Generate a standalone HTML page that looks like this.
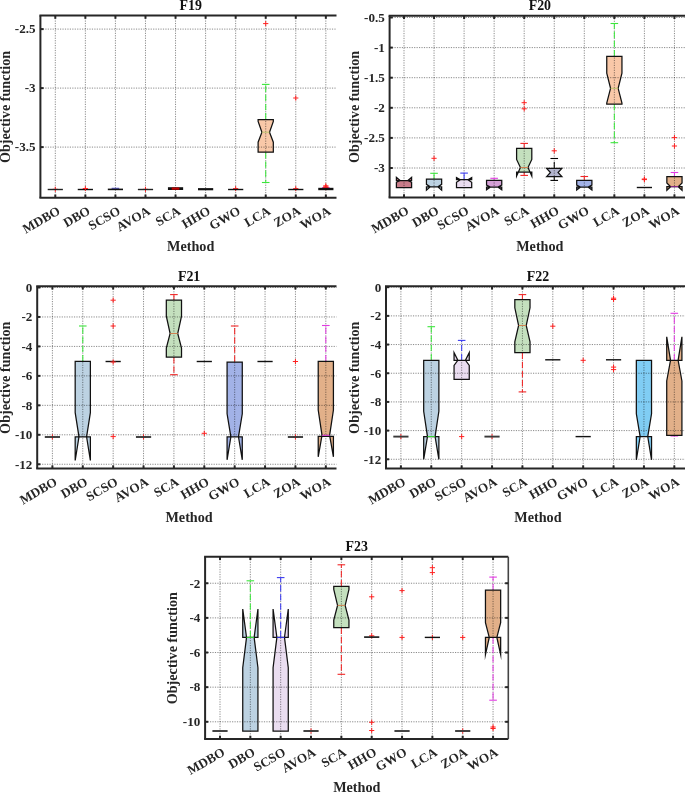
<!DOCTYPE html>
<html><head><meta charset="utf-8"><style>
html,body{margin:0;padding:0;background:#fff;}
svg{display:block;will-change:transform;filter:blur(0.35px);}
</style></head><body>
<svg width="685" height="792" viewBox="0 0 685 792">
<rect width="685" height="792" fill="#fff"/>
<path d="M258.12 152.2 L258.12 142.2 L261.92 132.2 L258.12 121.5 L258.12 119.5 L273.32 119.5 L273.32 121.5 L269.52 132.2 L273.32 142.2 L273.32 152.2 Z" fill="#F9C8A8" stroke="none"/>
<g stroke="#000" stroke-opacity="0.46" stroke-width="1" stroke-dasharray="1.2 1.25" fill="none"><line x1="55.3" y1="15.6" x2="55.3" y2="197.7"/><line x1="85.36" y1="15.6" x2="85.36" y2="197.7"/><line x1="115.42" y1="15.6" x2="115.42" y2="197.7"/><line x1="145.48" y1="15.6" x2="145.48" y2="197.7"/><line x1="175.54" y1="15.6" x2="175.54" y2="197.7"/><line x1="205.6" y1="15.6" x2="205.6" y2="197.7"/><line x1="235.66" y1="15.6" x2="235.66" y2="197.7"/><line x1="265.72" y1="15.6" x2="265.72" y2="197.7"/><line x1="295.78" y1="15.6" x2="295.78" y2="197.7"/><line x1="325.84" y1="15.6" x2="325.84" y2="197.7"/><line x1="40.4" y1="29.1" x2="336.5" y2="29.1"/><line x1="40.4" y1="88.1" x2="336.5" y2="88.1"/><line x1="40.4" y1="147.1" x2="336.5" y2="147.1"/></g>
<path d="M52.7 189.3H57.9M55.3 186.7V191.9" stroke="#FF2020" stroke-width="1.0" fill="none"/><line x1="47.7" y1="189.5" x2="62.9" y2="189.5" stroke="#222" stroke-width="1.4"/><line x1="77.76" y1="189.5" x2="92.96" y2="189.5" stroke="#111" stroke-width="1.4"/><path d="M82.76 188.5H87.96M85.36 185.9V191.1" stroke="#FF2020" stroke-width="1.0" fill="none"/><line x1="111.62" y1="188.3" x2="119.22" y2="188.3" stroke="#5050d0" stroke-width="1.1"/><line x1="107.82" y1="189.4" x2="123.02" y2="189.4" stroke="#111" stroke-width="1.6"/><path d="M142.88 189.3H148.08M145.48 186.7V191.9" stroke="#FF2020" stroke-width="1.0" fill="none"/><line x1="137.88" y1="189.5" x2="153.08" y2="189.5" stroke="#222" stroke-width="1.4"/><line x1="167.94" y1="188.6" x2="183.14" y2="188.6" stroke="#111" stroke-width="2.8"/><line x1="171.74" y1="188.6" x2="179.34" y2="188.6" stroke="#c00000" stroke-width="2.2"/><line x1="198" y1="189.2" x2="213.2" y2="189.2" stroke="#111" stroke-width="2.2"/><path d="M233.06 188.6H238.26M235.66 186V191.2" stroke="#FF2020" stroke-width="1.0" fill="none"/><line x1="228.06" y1="189.5" x2="243.26" y2="189.5" stroke="#111" stroke-width="1.4"/><line x1="265.72" y1="119.5" x2="265.72" y2="84.4" stroke="#3CE63C" stroke-width="1.05" stroke-dasharray="6.4 2.8"/><line x1="261.92" y1="84.4" x2="269.52" y2="84.4" stroke="#3CE63C" stroke-width="1.1"/><line x1="265.72" y1="152.2" x2="265.72" y2="182.5" stroke="#3CE63C" stroke-width="1.05" stroke-dasharray="6.4 2.8"/><line x1="261.92" y1="182.5" x2="269.52" y2="182.5" stroke="#3CE63C" stroke-width="1.1"/><path d="M258.12 152.2 L258.12 142.2 L261.92 132.2 L258.12 121.5 L258.12 119.5 L273.32 119.5 L273.32 121.5 L269.52 132.2 L273.32 142.2 L273.32 152.2 Z" fill="none" stroke="#111" stroke-width="1.25" stroke-linejoin="miter" stroke-miterlimit="10"/><line x1="261.92" y1="132.2" x2="269.52" y2="132.2" stroke="#BEC46E" stroke-width="1"/><path d="M263.12 23.6H268.32M265.72 21V26.2" stroke="#FF2020" stroke-width="1.0" fill="none"/><path d="M293.18 188.6H298.38M295.78 186V191.2" stroke="#FF2020" stroke-width="1.0" fill="none"/><path d="M293.18 98H298.38M295.78 95.4V100.6" stroke="#FF2020" stroke-width="1.0" fill="none"/><line x1="288.18" y1="189.5" x2="303.38" y2="189.5" stroke="#111" stroke-width="1.4"/><line x1="322.04" y1="187.6" x2="329.64" y2="187.6" stroke="#E23BE2" stroke-width="1.1"/><path d="M323.24 185.8H328.44M325.84 183.2V188.4" stroke="#FF2020" stroke-width="1.0" fill="none"/><path d="M323.24 186.8H328.44M325.84 184.2V189.4" stroke="#FF2020" stroke-width="1.0" fill="none"/><path d="M323.24 187.6H328.44M325.84 185V190.2" stroke="#FF2020" stroke-width="1.0" fill="none"/><line x1="318.24" y1="189" x2="333.44" y2="189" stroke="#111" stroke-width="2.4"/>
<g stroke="#262626" stroke-width="2" fill="none"><line x1="40.4" y1="15.6" x2="40.4" y2="197.7"/><line x1="39.4" y1="15.6" x2="336.5" y2="15.6"/><line x1="39.4" y1="197.7" x2="336.5" y2="197.7"/><line x1="55.3" y1="197.7" x2="55.3" y2="194.5"/><line x1="55.3" y1="15.6" x2="55.3" y2="18.8"/><line x1="85.36" y1="197.7" x2="85.36" y2="194.5"/><line x1="85.36" y1="15.6" x2="85.36" y2="18.8"/><line x1="115.42" y1="197.7" x2="115.42" y2="194.5"/><line x1="115.42" y1="15.6" x2="115.42" y2="18.8"/><line x1="145.48" y1="197.7" x2="145.48" y2="194.5"/><line x1="145.48" y1="15.6" x2="145.48" y2="18.8"/><line x1="175.54" y1="197.7" x2="175.54" y2="194.5"/><line x1="175.54" y1="15.6" x2="175.54" y2="18.8"/><line x1="205.6" y1="197.7" x2="205.6" y2="194.5"/><line x1="205.6" y1="15.6" x2="205.6" y2="18.8"/><line x1="235.66" y1="197.7" x2="235.66" y2="194.5"/><line x1="235.66" y1="15.6" x2="235.66" y2="18.8"/><line x1="265.72" y1="197.7" x2="265.72" y2="194.5"/><line x1="265.72" y1="15.6" x2="265.72" y2="18.8"/><line x1="295.78" y1="197.7" x2="295.78" y2="194.5"/><line x1="295.78" y1="15.6" x2="295.78" y2="18.8"/><line x1="325.84" y1="197.7" x2="325.84" y2="194.5"/><line x1="325.84" y1="15.6" x2="325.84" y2="18.8"/><line x1="40.4" y1="29.1" x2="43.6" y2="29.1"/><line x1="40.4" y1="88.1" x2="43.6" y2="88.1"/><line x1="40.4" y1="147.1" x2="43.6" y2="147.1"/></g>
<g font-family='"Liberation Serif", serif' font-weight="bold" font-size="13.1" fill="#262626"><text x="35.6" y="33.4" text-anchor="end">-2.5</text><text x="35.6" y="92.4" text-anchor="end">-3</text><text x="35.6" y="151.4" text-anchor="end">-3.5</text><text x="61.1" y="213.4" text-anchor="end" transform="rotate(-30 61.1 213.4)">MDBO</text><text x="91.16" y="213.4" text-anchor="end" transform="rotate(-30 91.16 213.4)">DBO</text><text x="121.22" y="213.4" text-anchor="end" transform="rotate(-30 121.22 213.4)">SCSO</text><text x="151.28" y="213.4" text-anchor="end" transform="rotate(-30 151.28 213.4)">AVOA</text><text x="181.34" y="213.4" text-anchor="end" transform="rotate(-30 181.34 213.4)">SCA</text><text x="211.4" y="213.4" text-anchor="end" transform="rotate(-30 211.4 213.4)">HHO</text><text x="241.46" y="213.4" text-anchor="end" transform="rotate(-30 241.46 213.4)">GWO</text><text x="271.52" y="213.4" text-anchor="end" transform="rotate(-30 271.52 213.4)">LCA</text><text x="301.58" y="213.4" text-anchor="end" transform="rotate(-30 301.58 213.4)">ZOA</text><text x="331.64" y="213.4" text-anchor="end" transform="rotate(-30 331.64 213.4)">WOA</text></g>
<text x="190.7" y="9.8" text-anchor="middle" font-family='"Liberation Serif", serif' font-weight="bold" font-size="13.9" fill="#111">F19</text>
<text x="190.7" y="250.7" text-anchor="middle" font-family='"Liberation Serif", serif' font-weight="bold" font-size="14.2" fill="#262626">Method</text>
<text x="10.2" y="106.95" text-anchor="middle" transform="rotate(-90 10.2 106.95)" font-family='"Liberation Serif", serif' font-weight="bold" font-size="14.2" fill="#262626">Objective function</text>
<path d="M396.4 187.5 L396.4 182.3 L400.2 180.5 L396.4 177.4 L396.4 180.5 L411.6 180.5 L411.6 177.4 L407.8 180.5 L411.6 182.3 L411.6 187.5 Z" fill="#C87D8A" stroke="none"/><path d="M426.45 186.9 L426.45 190.2 L430.25 186.9 L426.45 184.3 L426.45 179 L441.65 179 L441.65 184.3 L437.85 186.9 L441.65 190.2 L441.65 186.9 Z" fill="#BCD2E2" stroke="none"/><path d="M456.5 187.6 L456.5 182.3 L460.3 179.7 L456.5 177.5 L456.5 179.7 L471.7 179.7 L471.7 177.5 L467.9 179.7 L471.7 182.3 L471.7 187.6 Z" fill="#EADDF0" stroke="none"/><path d="M486.55 187.1 L486.55 189.7 L490.35 187.1 L486.55 185.1 L486.55 180.4 L501.75 180.4 L501.75 185.1 L497.95 187.1 L501.75 189.7 L501.75 187.1 Z" fill="#D4A0D6" stroke="none"/><path d="M516.6 172.1 L516.6 176.1 L520.4 167.5 L516.6 159.4 L516.6 148.3 L531.8 148.3 L531.8 159.4 L528 167.5 L531.8 176.1 L531.8 172.1 Z" fill="#C4E0BE" stroke="none"/><path d="M546.65 176.6 L546.65 176.6 L550.45 172.5 L546.65 168.3 L546.65 168.3 L561.85 168.3 L561.85 168.3 L558.05 172.5 L561.85 176.6 L561.85 176.6 Z" fill="#B2B4CD" stroke="none"/><path d="M576.7 187.1 L576.7 190 L580.5 187.1 L576.7 185.1 L576.7 180.3 L591.9 180.3 L591.9 185.1 L588.1 187.1 L591.9 190 L591.9 187.1 Z" fill="#A2B2E7" stroke="none"/><path d="M606.75 104.2 L606.75 103 L610.55 88.3 L606.75 73.1 L606.75 56.4 L621.95 56.4 L621.95 73.1 L618.15 88.3 L621.95 103 L621.95 104.2 Z" fill="#F9C8A8" stroke="none"/><path d="M666.85 186.7 L666.85 190.2 L670.65 186.7 L666.85 183 L666.85 176.6 L682.05 176.6 L682.05 183 L678.25 186.7 L682.05 190.2 L682.05 186.7 Z" fill="#E2B089" stroke="none"/>
<g stroke="#000" stroke-opacity="0.46" stroke-width="1" stroke-dasharray="1.2 1.25" fill="none"><line x1="404" y1="15.8" x2="404" y2="197.5"/><line x1="434.05" y1="15.8" x2="434.05" y2="197.5"/><line x1="464.1" y1="15.8" x2="464.1" y2="197.5"/><line x1="494.15" y1="15.8" x2="494.15" y2="197.5"/><line x1="524.2" y1="15.8" x2="524.2" y2="197.5"/><line x1="554.25" y1="15.8" x2="554.25" y2="197.5"/><line x1="584.3" y1="15.8" x2="584.3" y2="197.5"/><line x1="614.35" y1="15.8" x2="614.35" y2="197.5"/><line x1="644.4" y1="15.8" x2="644.4" y2="197.5"/><line x1="674.45" y1="15.8" x2="674.45" y2="197.5"/><line x1="389.6" y1="17.5" x2="685" y2="17.5"/><line x1="389.6" y1="47.6" x2="685" y2="47.6"/><line x1="389.6" y1="77.7" x2="685" y2="77.7"/><line x1="389.6" y1="107.8" x2="685" y2="107.8"/><line x1="389.6" y1="137.9" x2="685" y2="137.9"/><line x1="389.6" y1="168" x2="685" y2="168"/></g>
<path d="M396.4 187.5 L396.4 182.3 L400.2 180.5 L396.4 177.4 L396.4 180.5 L411.6 180.5 L411.6 177.4 L407.8 180.5 L411.6 182.3 L411.6 187.5 Z" fill="none" stroke="#111" stroke-width="1.25" stroke-linejoin="miter" stroke-miterlimit="10"/><line x1="434.05" y1="179" x2="434.05" y2="173.3" stroke="#3CE63C" stroke-width="1.05" stroke-dasharray="6.4 2.8"/><line x1="430.25" y1="173.3" x2="437.85" y2="173.3" stroke="#3CE63C" stroke-width="1.1"/><path d="M426.45 186.9 L426.45 190.2 L430.25 186.9 L426.45 184.3 L426.45 179 L441.65 179 L441.65 184.3 L437.85 186.9 L441.65 190.2 L441.65 186.9 Z" fill="none" stroke="#111" stroke-width="1.25" stroke-linejoin="miter" stroke-miterlimit="10"/><path d="M431.45 158.3H436.65M434.05 155.7V160.9" stroke="#FF2020" stroke-width="1.0" fill="none"/><line x1="464.1" y1="179.7" x2="464.1" y2="173.1" stroke="#3B3BF0" stroke-width="1.05" stroke-dasharray="6.4 2.8"/><line x1="460.3" y1="173.1" x2="467.9" y2="173.1" stroke="#3B3BF0" stroke-width="1.1"/><path d="M456.5 187.6 L456.5 182.3 L460.3 179.7 L456.5 177.5 L456.5 179.7 L471.7 179.7 L471.7 177.5 L467.9 179.7 L471.7 182.3 L471.7 187.6 Z" fill="none" stroke="#111" stroke-width="1.25" stroke-linejoin="miter" stroke-miterlimit="10"/><line x1="494.15" y1="180.4" x2="494.15" y2="178.3" stroke="#E23BE2" stroke-width="1.05" stroke-dasharray="6.4 2.8"/><line x1="490.35" y1="178.3" x2="497.95" y2="178.3" stroke="#E23BE2" stroke-width="1.1"/><path d="M486.55 187.1 L486.55 189.7 L490.35 187.1 L486.55 185.1 L486.55 180.4 L501.75 180.4 L501.75 185.1 L497.95 187.1 L501.75 189.7 L501.75 187.1 Z" fill="none" stroke="#111" stroke-width="1.25" stroke-linejoin="miter" stroke-miterlimit="10"/><line x1="524.2" y1="148.3" x2="524.2" y2="143.4" stroke="#F02525" stroke-width="1.05" stroke-dasharray="6.4 2.8"/><line x1="520.4" y1="143.4" x2="528" y2="143.4" stroke="#F02525" stroke-width="1.1"/><line x1="524.2" y1="172.1" x2="524.2" y2="175.4" stroke="#F02525" stroke-width="1.05" stroke-dasharray="6.4 2.8"/><line x1="520.4" y1="175.4" x2="528" y2="175.4" stroke="#F02525" stroke-width="1.1"/><path d="M516.6 172.1 L516.6 176.1 L520.4 167.5 L516.6 159.4 L516.6 148.3 L531.8 148.3 L531.8 159.4 L528 167.5 L531.8 176.1 L531.8 172.1 Z" fill="none" stroke="#111" stroke-width="1.25" stroke-linejoin="miter" stroke-miterlimit="10"/><line x1="520.4" y1="167.5" x2="528" y2="167.5" stroke="#D08050" stroke-width="1"/><path d="M521.6 102.7H526.8M524.2 100.1V105.3" stroke="#FF2020" stroke-width="1.0" fill="none"/><path d="M521.6 108.8H526.8M524.2 106.2V111.4" stroke="#FF2020" stroke-width="1.0" fill="none"/><line x1="554.25" y1="168.3" x2="554.25" y2="158.5" stroke="#000000" stroke-width="1.05" stroke-dasharray="6.4 2.8"/><line x1="550.45" y1="158.5" x2="558.05" y2="158.5" stroke="#000000" stroke-width="1.1"/><line x1="554.25" y1="176.6" x2="554.25" y2="180.4" stroke="#000000" stroke-width="1.05" stroke-dasharray="6.4 2.8"/><line x1="550.45" y1="180.4" x2="558.05" y2="180.4" stroke="#000000" stroke-width="1.1"/><path d="M546.65 176.6 L546.65 176.6 L550.45 172.5 L546.65 168.3 L546.65 168.3 L561.85 168.3 L561.85 168.3 L558.05 172.5 L561.85 176.6 L561.85 176.6 Z" fill="none" stroke="#111" stroke-width="1.25" stroke-linejoin="miter" stroke-miterlimit="10"/><path d="M551.65 150.8H556.85M554.25 148.2V153.4" stroke="#FF2020" stroke-width="1.0" fill="none"/><line x1="584.3" y1="180.3" x2="584.3" y2="176.5" stroke="#F02525" stroke-width="1.05" stroke-dasharray="6.4 2.8"/><line x1="580.5" y1="176.5" x2="588.1" y2="176.5" stroke="#F02525" stroke-width="1.1"/><path d="M576.7 187.1 L576.7 190 L580.5 187.1 L576.7 185.1 L576.7 180.3 L591.9 180.3 L591.9 185.1 L588.1 187.1 L591.9 190 L591.9 187.1 Z" fill="none" stroke="#111" stroke-width="1.25" stroke-linejoin="miter" stroke-miterlimit="10"/><line x1="614.35" y1="56.4" x2="614.35" y2="23.5" stroke="#3CE63C" stroke-width="1.05" stroke-dasharray="6.4 2.8"/><line x1="610.55" y1="23.5" x2="618.15" y2="23.5" stroke="#3CE63C" stroke-width="1.1"/><line x1="614.35" y1="104.2" x2="614.35" y2="142.7" stroke="#3CE63C" stroke-width="1.05" stroke-dasharray="6.4 2.8"/><line x1="610.55" y1="142.7" x2="618.15" y2="142.7" stroke="#3CE63C" stroke-width="1.1"/><path d="M606.75 104.2 L606.75 103 L610.55 88.3 L606.75 73.1 L606.75 56.4 L621.95 56.4 L621.95 73.1 L618.15 88.3 L621.95 103 L621.95 104.2 Z" fill="none" stroke="#111" stroke-width="1.25" stroke-linejoin="miter" stroke-miterlimit="10"/><line x1="610.55" y1="88.3" x2="618.15" y2="88.3" stroke="#BEC46E" stroke-width="1"/><path d="M641.8 179H647M644.4 176.4V181.6" stroke="#FF2020" stroke-width="1.0" fill="none"/><path d="M641.8 179.6H647M644.4 177V182.2" stroke="#FF2020" stroke-width="1.0" fill="none"/><line x1="636.8" y1="187.5" x2="652" y2="187.5" stroke="#111" stroke-width="1.4"/><line x1="674.45" y1="176.6" x2="674.45" y2="172.5" stroke="#E23BE2" stroke-width="1.05" stroke-dasharray="6.4 2.8"/><line x1="670.65" y1="172.5" x2="678.25" y2="172.5" stroke="#E23BE2" stroke-width="1.1"/><path d="M666.85 186.7 L666.85 190.2 L670.65 186.7 L666.85 183 L666.85 176.6 L682.05 176.6 L682.05 183 L678.25 186.7 L682.05 190.2 L682.05 186.7 Z" fill="none" stroke="#111" stroke-width="1.25" stroke-linejoin="miter" stroke-miterlimit="10"/><line x1="670.65" y1="186.7" x2="678.25" y2="186.7" stroke="#A030A0" stroke-width="1"/><path d="M671.85 137.6H677.05M674.45 135V140.2" stroke="#FF2020" stroke-width="1.0" fill="none"/><path d="M671.85 146H677.05M674.45 143.4V148.6" stroke="#FF2020" stroke-width="1.0" fill="none"/>
<g stroke="#262626" stroke-width="2" fill="none"><line x1="389.6" y1="15.8" x2="389.6" y2="197.5"/><line x1="388.6" y1="15.8" x2="685" y2="15.8"/><line x1="388.6" y1="197.5" x2="685" y2="197.5"/><line x1="404" y1="197.5" x2="404" y2="194.3"/><line x1="404" y1="15.8" x2="404" y2="19"/><line x1="434.05" y1="197.5" x2="434.05" y2="194.3"/><line x1="434.05" y1="15.8" x2="434.05" y2="19"/><line x1="464.1" y1="197.5" x2="464.1" y2="194.3"/><line x1="464.1" y1="15.8" x2="464.1" y2="19"/><line x1="494.15" y1="197.5" x2="494.15" y2="194.3"/><line x1="494.15" y1="15.8" x2="494.15" y2="19"/><line x1="524.2" y1="197.5" x2="524.2" y2="194.3"/><line x1="524.2" y1="15.8" x2="524.2" y2="19"/><line x1="554.25" y1="197.5" x2="554.25" y2="194.3"/><line x1="554.25" y1="15.8" x2="554.25" y2="19"/><line x1="584.3" y1="197.5" x2="584.3" y2="194.3"/><line x1="584.3" y1="15.8" x2="584.3" y2="19"/><line x1="614.35" y1="197.5" x2="614.35" y2="194.3"/><line x1="614.35" y1="15.8" x2="614.35" y2="19"/><line x1="644.4" y1="197.5" x2="644.4" y2="194.3"/><line x1="644.4" y1="15.8" x2="644.4" y2="19"/><line x1="674.45" y1="197.5" x2="674.45" y2="194.3"/><line x1="674.45" y1="15.8" x2="674.45" y2="19"/><line x1="389.6" y1="17.5" x2="392.8" y2="17.5"/><line x1="389.6" y1="47.6" x2="392.8" y2="47.6"/><line x1="389.6" y1="77.7" x2="392.8" y2="77.7"/><line x1="389.6" y1="107.8" x2="392.8" y2="107.8"/><line x1="389.6" y1="137.9" x2="392.8" y2="137.9"/><line x1="389.6" y1="168" x2="392.8" y2="168"/></g>
<g font-family='"Liberation Serif", serif' font-weight="bold" font-size="13.1" fill="#262626"><text x="384.8" y="21.8" text-anchor="end">-0.5</text><text x="384.8" y="51.9" text-anchor="end">-1</text><text x="384.8" y="82" text-anchor="end">-1.5</text><text x="384.8" y="112.1" text-anchor="end">-2</text><text x="384.8" y="142.2" text-anchor="end">-2.5</text><text x="384.8" y="172.3" text-anchor="end">-3</text><text x="409.8" y="213.2" text-anchor="end" transform="rotate(-30 409.8 213.2)">MDBO</text><text x="439.85" y="213.2" text-anchor="end" transform="rotate(-30 439.85 213.2)">DBO</text><text x="469.9" y="213.2" text-anchor="end" transform="rotate(-30 469.9 213.2)">SCSO</text><text x="499.95" y="213.2" text-anchor="end" transform="rotate(-30 499.95 213.2)">AVOA</text><text x="530" y="213.2" text-anchor="end" transform="rotate(-30 530 213.2)">SCA</text><text x="560.05" y="213.2" text-anchor="end" transform="rotate(-30 560.05 213.2)">HHO</text><text x="590.1" y="213.2" text-anchor="end" transform="rotate(-30 590.1 213.2)">GWO</text><text x="620.15" y="213.2" text-anchor="end" transform="rotate(-30 620.15 213.2)">LCA</text><text x="650.2" y="213.2" text-anchor="end" transform="rotate(-30 650.2 213.2)">ZOA</text><text x="680.25" y="213.2" text-anchor="end" transform="rotate(-30 680.25 213.2)">WOA</text></g>
<text x="539.85" y="10" text-anchor="middle" font-family='"Liberation Serif", serif' font-weight="bold" font-size="13.9" fill="#111">F20</text>
<text x="539.85" y="250.5" text-anchor="middle" font-family='"Liberation Serif", serif' font-weight="bold" font-size="14.2" fill="#262626">Method</text>
<text x="359.3" y="106.95" text-anchor="middle" transform="rotate(-90 359.3 106.95)" font-family='"Liberation Serif", serif' font-weight="bold" font-size="14.2" fill="#262626">Objective function</text>
<path d="M75.18 436.8 L75.18 460.5 L78.98 436.8 L75.18 412.6 L75.18 361.3 L90.38 361.3 L90.38 412.6 L86.58 436.8 L90.38 460.5 L90.38 436.8 Z" fill="#BCD2E2" stroke="none"/><path d="M166.32 357 L166.32 348.2 L170.12 333.5 L166.32 316.2 L166.32 300 L181.52 300 L181.52 316.2 L177.72 333.5 L181.52 348.2 L181.52 357 Z" fill="#C4E0BE" stroke="none"/><path d="M227.08 436.8 L227.08 459.8 L230.88 436.8 L227.08 413.8 L227.08 362 L242.28 362 L242.28 413.8 L238.48 436.8 L242.28 459.8 L242.28 436.8 Z" fill="#A2B2E7" stroke="none"/><path d="M318.22 436.3 L318.22 456.8 L322.02 435.3 L318.22 410 L318.22 361.3 L333.42 361.3 L333.42 410 L329.62 435.3 L333.42 456.8 L333.42 436.3 Z" fill="#E2B089" stroke="none"/>
<g stroke="#000" stroke-opacity="0.46" stroke-width="1" stroke-dasharray="1.2 1.25" fill="none"><line x1="52.4" y1="286.3" x2="52.4" y2="468.6"/><line x1="82.78" y1="286.3" x2="82.78" y2="468.6"/><line x1="113.16" y1="286.3" x2="113.16" y2="468.6"/><line x1="143.54" y1="286.3" x2="143.54" y2="468.6"/><line x1="173.92" y1="286.3" x2="173.92" y2="468.6"/><line x1="204.3" y1="286.3" x2="204.3" y2="468.6"/><line x1="234.68" y1="286.3" x2="234.68" y2="468.6"/><line x1="265.06" y1="286.3" x2="265.06" y2="468.6"/><line x1="295.44" y1="286.3" x2="295.44" y2="468.6"/><line x1="325.82" y1="286.3" x2="325.82" y2="468.6"/><line x1="37.2" y1="287.5" x2="336.5" y2="287.5"/><line x1="37.2" y1="316.96" x2="336.5" y2="316.96"/><line x1="37.2" y1="346.42" x2="336.5" y2="346.42"/><line x1="37.2" y1="375.88" x2="336.5" y2="375.88"/><line x1="37.2" y1="405.34" x2="336.5" y2="405.34"/><line x1="37.2" y1="434.8" x2="336.5" y2="434.8"/><line x1="37.2" y1="464.26" x2="336.5" y2="464.26"/></g>
<path d="M49.8 437H55M52.4 434.4V439.6" stroke="#FF2020" stroke-width="1.0" fill="none"/><line x1="44.8" y1="437" x2="60" y2="437" stroke="#3a3a3a" stroke-width="1.9"/><line x1="82.78" y1="361.3" x2="82.78" y2="326" stroke="#3CE63C" stroke-width="1.05" stroke-dasharray="6.4 2.8"/><line x1="78.98" y1="326" x2="86.58" y2="326" stroke="#3CE63C" stroke-width="1.1"/><path d="M75.18 436.8 L75.18 460.5 L78.98 436.8 L75.18 412.6 L75.18 361.3 L90.38 361.3 L90.38 412.6 L86.58 436.8 L90.38 460.5 L90.38 436.8 Z" fill="none" stroke="#111" stroke-width="1.25" stroke-linejoin="miter" stroke-miterlimit="10"/><path d="M110.56 300.2H115.76M113.16 297.6V302.8" stroke="#FF2020" stroke-width="1.0" fill="none"/><path d="M110.56 326H115.76M113.16 323.4V328.6" stroke="#FF2020" stroke-width="1.0" fill="none"/><path d="M110.56 436.6H115.76M113.16 434V439.2" stroke="#FF2020" stroke-width="1.0" fill="none"/><line x1="105.56" y1="361.5" x2="120.76" y2="361.5" stroke="#111" stroke-width="1.4"/><path d="M110.56 362H115.76M113.16 359.4V364.6" stroke="#FF2020" stroke-width="1.0" fill="none"/><path d="M140.94 437H146.14M143.54 434.4V439.6" stroke="#FF2020" stroke-width="1.0" fill="none"/><line x1="135.94" y1="437" x2="151.14" y2="437" stroke="#3a3a3a" stroke-width="1.9"/><line x1="173.92" y1="300" x2="173.92" y2="294.6" stroke="#F02525" stroke-width="1.05" stroke-dasharray="6.4 2.8"/><line x1="170.12" y1="294.6" x2="177.72" y2="294.6" stroke="#F02525" stroke-width="1.1"/><line x1="173.92" y1="357" x2="173.92" y2="374.7" stroke="#F02525" stroke-width="1.05" stroke-dasharray="6.4 2.8"/><line x1="170.12" y1="374.7" x2="177.72" y2="374.7" stroke="#F02525" stroke-width="1.1"/><path d="M166.32 357 L166.32 348.2 L170.12 333.5 L166.32 316.2 L166.32 300 L181.52 300 L181.52 316.2 L177.72 333.5 L181.52 348.2 L181.52 357 Z" fill="none" stroke="#111" stroke-width="1.25" stroke-linejoin="miter" stroke-miterlimit="10"/><line x1="170.12" y1="333.5" x2="177.72" y2="333.5" stroke="#D08050" stroke-width="1"/><path d="M201.7 433.3H206.9M204.3 430.7V435.9" stroke="#FF2020" stroke-width="1.0" fill="none"/><line x1="196.7" y1="361.5" x2="211.9" y2="361.5" stroke="#111" stroke-width="1.4"/><line x1="234.68" y1="362" x2="234.68" y2="326" stroke="#F02525" stroke-width="1.05" stroke-dasharray="6.4 2.8"/><line x1="230.88" y1="326" x2="238.48" y2="326" stroke="#F02525" stroke-width="1.1"/><path d="M227.08 436.8 L227.08 459.8 L230.88 436.8 L227.08 413.8 L227.08 362 L242.28 362 L242.28 413.8 L238.48 436.8 L242.28 459.8 L242.28 436.8 Z" fill="none" stroke="#111" stroke-width="1.25" stroke-linejoin="miter" stroke-miterlimit="10"/><line x1="257.46" y1="361.5" x2="272.66" y2="361.5" stroke="#111" stroke-width="1.4"/><path d="M292.84 437H298.04M295.44 434.4V439.6" stroke="#FF2020" stroke-width="1.0" fill="none"/><path d="M292.84 361.5H298.04M295.44 358.9V364.1" stroke="#FF2020" stroke-width="1.0" fill="none"/><line x1="287.84" y1="437" x2="303.04" y2="437" stroke="#3a3a3a" stroke-width="1.9"/><line x1="325.82" y1="361.3" x2="325.82" y2="325.5" stroke="#E23BE2" stroke-width="1.05" stroke-dasharray="6.4 2.8"/><line x1="322.02" y1="325.5" x2="329.62" y2="325.5" stroke="#E23BE2" stroke-width="1.1"/><path d="M318.22 436.3 L318.22 456.8 L322.02 435.3 L318.22 410 L318.22 361.3 L333.42 361.3 L333.42 410 L329.62 435.3 L333.42 456.8 L333.42 436.3 Z" fill="none" stroke="#111" stroke-width="1.25" stroke-linejoin="miter" stroke-miterlimit="10"/><line x1="322.02" y1="435.3" x2="329.62" y2="435.3" stroke="#E23BE2" stroke-width="1"/>
<g stroke="#262626" stroke-width="2" fill="none"><line x1="37.2" y1="286.3" x2="37.2" y2="468.6"/><line x1="36.2" y1="286.3" x2="336.5" y2="286.3"/><line x1="36.2" y1="468.6" x2="336.5" y2="468.6"/><line x1="52.4" y1="468.6" x2="52.4" y2="465.4"/><line x1="52.4" y1="286.3" x2="52.4" y2="289.5"/><line x1="82.78" y1="468.6" x2="82.78" y2="465.4"/><line x1="82.78" y1="286.3" x2="82.78" y2="289.5"/><line x1="113.16" y1="468.6" x2="113.16" y2="465.4"/><line x1="113.16" y1="286.3" x2="113.16" y2="289.5"/><line x1="143.54" y1="468.6" x2="143.54" y2="465.4"/><line x1="143.54" y1="286.3" x2="143.54" y2="289.5"/><line x1="173.92" y1="468.6" x2="173.92" y2="465.4"/><line x1="173.92" y1="286.3" x2="173.92" y2="289.5"/><line x1="204.3" y1="468.6" x2="204.3" y2="465.4"/><line x1="204.3" y1="286.3" x2="204.3" y2="289.5"/><line x1="234.68" y1="468.6" x2="234.68" y2="465.4"/><line x1="234.68" y1="286.3" x2="234.68" y2="289.5"/><line x1="265.06" y1="468.6" x2="265.06" y2="465.4"/><line x1="265.06" y1="286.3" x2="265.06" y2="289.5"/><line x1="295.44" y1="468.6" x2="295.44" y2="465.4"/><line x1="295.44" y1="286.3" x2="295.44" y2="289.5"/><line x1="325.82" y1="468.6" x2="325.82" y2="465.4"/><line x1="325.82" y1="286.3" x2="325.82" y2="289.5"/><line x1="37.2" y1="287.5" x2="40.4" y2="287.5"/><line x1="37.2" y1="316.96" x2="40.4" y2="316.96"/><line x1="37.2" y1="346.42" x2="40.4" y2="346.42"/><line x1="37.2" y1="375.88" x2="40.4" y2="375.88"/><line x1="37.2" y1="405.34" x2="40.4" y2="405.34"/><line x1="37.2" y1="434.8" x2="40.4" y2="434.8"/><line x1="37.2" y1="464.26" x2="40.4" y2="464.26"/></g>
<g font-family='"Liberation Serif", serif' font-weight="bold" font-size="13.1" fill="#262626"><text x="32.4" y="291.8" text-anchor="end">0</text><text x="32.4" y="321.26" text-anchor="end">-2</text><text x="32.4" y="350.72" text-anchor="end">-4</text><text x="32.4" y="380.18" text-anchor="end">-6</text><text x="32.4" y="409.64" text-anchor="end">-8</text><text x="32.4" y="439.1" text-anchor="end">-10</text><text x="32.4" y="468.56" text-anchor="end">-12</text><text x="58.2" y="484.3" text-anchor="end" transform="rotate(-30 58.2 484.3)">MDBO</text><text x="88.58" y="484.3" text-anchor="end" transform="rotate(-30 88.58 484.3)">DBO</text><text x="118.96" y="484.3" text-anchor="end" transform="rotate(-30 118.96 484.3)">SCSO</text><text x="149.34" y="484.3" text-anchor="end" transform="rotate(-30 149.34 484.3)">AVOA</text><text x="179.72" y="484.3" text-anchor="end" transform="rotate(-30 179.72 484.3)">SCA</text><text x="210.1" y="484.3" text-anchor="end" transform="rotate(-30 210.1 484.3)">HHO</text><text x="240.48" y="484.3" text-anchor="end" transform="rotate(-30 240.48 484.3)">GWO</text><text x="270.86" y="484.3" text-anchor="end" transform="rotate(-30 270.86 484.3)">LCA</text><text x="301.24" y="484.3" text-anchor="end" transform="rotate(-30 301.24 484.3)">ZOA</text><text x="331.62" y="484.3" text-anchor="end" transform="rotate(-30 331.62 484.3)">WOA</text></g>
<text x="189.1" y="280.5" text-anchor="middle" font-family='"Liberation Serif", serif' font-weight="bold" font-size="13.9" fill="#111">F21</text>
<text x="189.1" y="521.6" text-anchor="middle" font-family='"Liberation Serif", serif' font-weight="bold" font-size="14.2" fill="#262626">Method</text>
<text x="9.85" y="377.75" text-anchor="middle" transform="rotate(-90 9.85 377.75)" font-family='"Liberation Serif", serif' font-weight="bold" font-size="14.2" fill="#262626">Objective function</text>
<path d="M423.68 436.6 L423.68 459.3 L427.48 436.6 L423.68 411.3 L423.68 360.3 L438.88 360.3 L438.88 411.3 L435.08 436.6 L438.88 459.3 L438.88 436.6 Z" fill="#BCD2E2" stroke="none"/><path d="M454.06 379.4 L454.06 365.4 L457.86 360.3 L454.06 352.6 L454.06 360.3 L469.26 360.3 L469.26 352.6 L465.46 360.3 L469.26 365.4 L469.26 379.4 Z" fill="#EADDF0" stroke="none"/><path d="M514.82 352.5 L514.82 341.9 L518.62 325.5 L514.82 307.8 L514.82 299.7 L530.02 299.7 L530.02 307.8 L526.22 325.5 L530.02 341.9 L530.02 352.5 Z" fill="#C4E0BE" stroke="none"/><path d="M636.34 436.6 L636.34 459.8 L640.14 436.6 L636.34 413.8 L636.34 360.3 L651.54 360.3 L651.54 413.8 L647.74 436.6 L651.54 459.8 L651.54 436.6 Z" fill="#80CDF4" stroke="none"/><path d="M666.72 435.3 L666.72 381 L670.52 360.3 L666.72 336.8 L666.72 360.3 L681.92 360.3 L681.92 336.8 L678.12 360.3 L681.92 381 L681.92 435.3 Z" fill="#E2B089" stroke="none"/>
<g stroke="#000" stroke-opacity="0.46" stroke-width="1" stroke-dasharray="1.2 1.25" fill="none"><line x1="400.9" y1="286.3" x2="400.9" y2="468.6"/><line x1="431.28" y1="286.3" x2="431.28" y2="468.6"/><line x1="461.66" y1="286.3" x2="461.66" y2="468.6"/><line x1="492.04" y1="286.3" x2="492.04" y2="468.6"/><line x1="522.42" y1="286.3" x2="522.42" y2="468.6"/><line x1="552.8" y1="286.3" x2="552.8" y2="468.6"/><line x1="583.18" y1="286.3" x2="583.18" y2="468.6"/><line x1="613.56" y1="286.3" x2="613.56" y2="468.6"/><line x1="643.94" y1="286.3" x2="643.94" y2="468.6"/><line x1="674.32" y1="286.3" x2="674.32" y2="468.6"/><line x1="386" y1="287.2" x2="685" y2="287.2"/><line x1="386" y1="315.88" x2="685" y2="315.88"/><line x1="386" y1="344.56" x2="685" y2="344.56"/><line x1="386" y1="373.24" x2="685" y2="373.24"/><line x1="386" y1="401.92" x2="685" y2="401.92"/><line x1="386" y1="430.6" x2="685" y2="430.6"/><line x1="386" y1="459.28" x2="685" y2="459.28"/></g>
<path d="M398.3 436.6H403.5M400.9 434V439.2" stroke="#FF2020" stroke-width="1.0" fill="none"/><line x1="393.3" y1="436.6" x2="408.5" y2="436.6" stroke="#3a3a3a" stroke-width="1.9"/><line x1="431.28" y1="360.3" x2="431.28" y2="326.7" stroke="#3CE63C" stroke-width="1.05" stroke-dasharray="6.4 2.8"/><line x1="427.48" y1="326.7" x2="435.08" y2="326.7" stroke="#3CE63C" stroke-width="1.1"/><path d="M423.68 436.6 L423.68 459.3 L427.48 436.6 L423.68 411.3 L423.68 360.3 L438.88 360.3 L438.88 411.3 L435.08 436.6 L438.88 459.3 L438.88 436.6 Z" fill="none" stroke="#111" stroke-width="1.25" stroke-linejoin="miter" stroke-miterlimit="10"/><line x1="427.48" y1="436.6" x2="435.08" y2="436.6" stroke="#3CE63C" stroke-width="1"/><line x1="461.66" y1="360.3" x2="461.66" y2="340.4" stroke="#3B3BF0" stroke-width="1.05" stroke-dasharray="6.4 2.8"/><line x1="457.86" y1="340.4" x2="465.46" y2="340.4" stroke="#3B3BF0" stroke-width="1.1"/><path d="M454.06 379.4 L454.06 365.4 L457.86 360.3 L454.06 352.6 L454.06 360.3 L469.26 360.3 L469.26 352.6 L465.46 360.3 L469.26 365.4 L469.26 379.4 Z" fill="none" stroke="#111" stroke-width="1.25" stroke-linejoin="miter" stroke-miterlimit="10"/><path d="M459.06 436.6H464.26M461.66 434V439.2" stroke="#FF2020" stroke-width="1.0" fill="none"/><path d="M489.44 436.6H494.64M492.04 434V439.2" stroke="#FF2020" stroke-width="1.0" fill="none"/><line x1="484.44" y1="436.6" x2="499.64" y2="436.6" stroke="#3a3a3a" stroke-width="1.9"/><line x1="522.42" y1="299.7" x2="522.42" y2="294.6" stroke="#F02525" stroke-width="1.05" stroke-dasharray="6.4 2.8"/><line x1="518.62" y1="294.6" x2="526.22" y2="294.6" stroke="#F02525" stroke-width="1.1"/><line x1="522.42" y1="352.5" x2="522.42" y2="391.9" stroke="#F02525" stroke-width="1.05" stroke-dasharray="6.4 2.8"/><line x1="518.62" y1="391.9" x2="526.22" y2="391.9" stroke="#F02525" stroke-width="1.1"/><path d="M514.82 352.5 L514.82 341.9 L518.62 325.5 L514.82 307.8 L514.82 299.7 L530.02 299.7 L530.02 307.8 L526.22 325.5 L530.02 341.9 L530.02 352.5 Z" fill="none" stroke="#111" stroke-width="1.25" stroke-linejoin="miter" stroke-miterlimit="10"/><line x1="518.62" y1="325.5" x2="526.22" y2="325.5" stroke="#D08050" stroke-width="1"/><path d="M550.2 326.2H555.4M552.8 323.6V328.8" stroke="#FF2020" stroke-width="1.0" fill="none"/><line x1="545.2" y1="359.8" x2="560.4" y2="359.8" stroke="#111" stroke-width="1.4"/><path d="M580.58 360.3H585.78M583.18 357.7V362.9" stroke="#FF2020" stroke-width="1.0" fill="none"/><line x1="575.58" y1="436.6" x2="590.78" y2="436.6" stroke="#111" stroke-width="1.4"/><path d="M610.96 298.2H616.16M613.56 295.6V300.8" stroke="#FF2020" stroke-width="1.0" fill="none"/><path d="M610.96 299.5H616.16M613.56 296.9V302.1" stroke="#FF2020" stroke-width="1.0" fill="none"/><path d="M610.96 367.1H616.16M613.56 364.5V369.7" stroke="#FF2020" stroke-width="1.0" fill="none"/><path d="M610.96 369.6H616.16M613.56 367V372.2" stroke="#FF2020" stroke-width="1.0" fill="none"/><line x1="605.96" y1="359.8" x2="621.16" y2="359.8" stroke="#111" stroke-width="1.4"/><path d="M636.34 436.6 L636.34 459.8 L640.14 436.6 L636.34 413.8 L636.34 360.3 L651.54 360.3 L651.54 413.8 L647.74 436.6 L651.54 459.8 L651.54 436.6 Z" fill="none" stroke="#111" stroke-width="1.25" stroke-linejoin="miter" stroke-miterlimit="10"/><line x1="674.32" y1="360.3" x2="674.32" y2="313.3" stroke="#E23BE2" stroke-width="1.05" stroke-dasharray="6.4 2.8"/><line x1="670.52" y1="313.3" x2="678.12" y2="313.3" stroke="#E23BE2" stroke-width="1.1"/><line x1="674.32" y1="435.3" x2="674.32" y2="436" stroke="#E23BE2" stroke-width="1.05" stroke-dasharray="6.4 2.8"/><line x1="670.52" y1="436" x2="678.12" y2="436" stroke="#E23BE2" stroke-width="1.1"/><path d="M666.72 435.3 L666.72 381 L670.52 360.3 L666.72 336.8 L666.72 360.3 L681.92 360.3 L681.92 336.8 L678.12 360.3 L681.92 381 L681.92 435.3 Z" fill="none" stroke="#111" stroke-width="1.25" stroke-linejoin="miter" stroke-miterlimit="10"/>
<g stroke="#262626" stroke-width="2" fill="none"><line x1="386" y1="286.3" x2="386" y2="468.6"/><line x1="385" y1="286.3" x2="685" y2="286.3"/><line x1="385" y1="468.6" x2="685" y2="468.6"/><line x1="400.9" y1="468.6" x2="400.9" y2="465.4"/><line x1="400.9" y1="286.3" x2="400.9" y2="289.5"/><line x1="431.28" y1="468.6" x2="431.28" y2="465.4"/><line x1="431.28" y1="286.3" x2="431.28" y2="289.5"/><line x1="461.66" y1="468.6" x2="461.66" y2="465.4"/><line x1="461.66" y1="286.3" x2="461.66" y2="289.5"/><line x1="492.04" y1="468.6" x2="492.04" y2="465.4"/><line x1="492.04" y1="286.3" x2="492.04" y2="289.5"/><line x1="522.42" y1="468.6" x2="522.42" y2="465.4"/><line x1="522.42" y1="286.3" x2="522.42" y2="289.5"/><line x1="552.8" y1="468.6" x2="552.8" y2="465.4"/><line x1="552.8" y1="286.3" x2="552.8" y2="289.5"/><line x1="583.18" y1="468.6" x2="583.18" y2="465.4"/><line x1="583.18" y1="286.3" x2="583.18" y2="289.5"/><line x1="613.56" y1="468.6" x2="613.56" y2="465.4"/><line x1="613.56" y1="286.3" x2="613.56" y2="289.5"/><line x1="643.94" y1="468.6" x2="643.94" y2="465.4"/><line x1="643.94" y1="286.3" x2="643.94" y2="289.5"/><line x1="674.32" y1="468.6" x2="674.32" y2="465.4"/><line x1="674.32" y1="286.3" x2="674.32" y2="289.5"/><line x1="386" y1="287.2" x2="389.2" y2="287.2"/><line x1="386" y1="315.88" x2="389.2" y2="315.88"/><line x1="386" y1="344.56" x2="389.2" y2="344.56"/><line x1="386" y1="373.24" x2="389.2" y2="373.24"/><line x1="386" y1="401.92" x2="389.2" y2="401.92"/><line x1="386" y1="430.6" x2="389.2" y2="430.6"/><line x1="386" y1="459.28" x2="389.2" y2="459.28"/></g>
<g font-family='"Liberation Serif", serif' font-weight="bold" font-size="13.1" fill="#262626"><text x="381.2" y="291.5" text-anchor="end">0</text><text x="381.2" y="320.18" text-anchor="end">-2</text><text x="381.2" y="348.86" text-anchor="end">-4</text><text x="381.2" y="377.54" text-anchor="end">-6</text><text x="381.2" y="406.22" text-anchor="end">-8</text><text x="381.2" y="434.9" text-anchor="end">-10</text><text x="381.2" y="463.58" text-anchor="end">-12</text><text x="406.7" y="484.3" text-anchor="end" transform="rotate(-30 406.7 484.3)">MDBO</text><text x="437.08" y="484.3" text-anchor="end" transform="rotate(-30 437.08 484.3)">DBO</text><text x="467.46" y="484.3" text-anchor="end" transform="rotate(-30 467.46 484.3)">SCSO</text><text x="497.84" y="484.3" text-anchor="end" transform="rotate(-30 497.84 484.3)">AVOA</text><text x="528.22" y="484.3" text-anchor="end" transform="rotate(-30 528.22 484.3)">SCA</text><text x="558.6" y="484.3" text-anchor="end" transform="rotate(-30 558.6 484.3)">HHO</text><text x="588.98" y="484.3" text-anchor="end" transform="rotate(-30 588.98 484.3)">GWO</text><text x="619.36" y="484.3" text-anchor="end" transform="rotate(-30 619.36 484.3)">LCA</text><text x="649.74" y="484.3" text-anchor="end" transform="rotate(-30 649.74 484.3)">ZOA</text><text x="680.12" y="484.3" text-anchor="end" transform="rotate(-30 680.12 484.3)">WOA</text></g>
<text x="537.9" y="280.5" text-anchor="middle" font-family='"Liberation Serif", serif' font-weight="bold" font-size="13.9" fill="#111">F22</text>
<text x="537.9" y="521.6" text-anchor="middle" font-family='"Liberation Serif", serif' font-weight="bold" font-size="14.2" fill="#262626">Method</text>
<text x="359" y="377.75" text-anchor="middle" transform="rotate(-90 359 377.75)" font-family='"Liberation Serif", serif' font-weight="bold" font-size="14.2" fill="#262626">Objective function</text>
<path d="M242.74 731 L242.74 667.7 L246.54 637.4 L242.74 609.1 L242.74 637.4 L257.94 637.4 L257.94 609.1 L254.14 637.4 L257.94 667.7 L257.94 731 Z" fill="#BCD2E2" stroke="none"/><path d="M273.08 731 L273.08 667.7 L276.88 637.4 L273.08 609.1 L273.08 637.4 L288.28 637.4 L288.28 609.1 L284.48 637.4 L288.28 667.7 L288.28 731 Z" fill="#EADDF0" stroke="none"/><path d="M333.76 627.5 L333.76 620.2 L337.56 605.4 L333.76 589.4 L333.76 586.4 L348.96 586.4 L348.96 589.4 L345.16 605.4 L348.96 620.2 L348.96 627.5 Z" fill="#C4E0BE" stroke="none"/><path d="M485.46 637.4 L485.46 654.6 L489.26 637.4 L485.46 622.6 L485.46 590.1 L500.66 590.1 L500.66 622.6 L496.86 637.4 L500.66 654.6 L500.66 637.4 Z" fill="#E2B089" stroke="none"/>
<g stroke="#000" stroke-opacity="0.46" stroke-width="1" stroke-dasharray="1.2 1.25" fill="none"><line x1="220" y1="556.8" x2="220" y2="739"/><line x1="250.34" y1="556.8" x2="250.34" y2="739"/><line x1="280.68" y1="556.8" x2="280.68" y2="739"/><line x1="311.02" y1="556.8" x2="311.02" y2="739"/><line x1="341.36" y1="556.8" x2="341.36" y2="739"/><line x1="371.7" y1="556.8" x2="371.7" y2="739"/><line x1="402.04" y1="556.8" x2="402.04" y2="739"/><line x1="432.38" y1="556.8" x2="432.38" y2="739"/><line x1="462.72" y1="556.8" x2="462.72" y2="739"/><line x1="493.06" y1="556.8" x2="493.06" y2="739"/><line x1="205.1" y1="583.24" x2="508.3" y2="583.24"/><line x1="205.1" y1="617.88" x2="508.3" y2="617.88"/><line x1="205.1" y1="652.52" x2="508.3" y2="652.52"/><line x1="205.1" y1="687.16" x2="508.3" y2="687.16"/><line x1="205.1" y1="721.8" x2="508.3" y2="721.8"/></g>
<line x1="212.4" y1="731" x2="227.6" y2="731" stroke="#3a3a3a" stroke-width="1.9"/><line x1="250.34" y1="637.4" x2="250.34" y2="580.8" stroke="#3CE63C" stroke-width="1.05" stroke-dasharray="6.4 2.8"/><line x1="246.54" y1="580.8" x2="254.14" y2="580.8" stroke="#3CE63C" stroke-width="1.1"/><path d="M242.74 731 L242.74 667.7 L246.54 637.4 L242.74 609.1 L242.74 637.4 L257.94 637.4 L257.94 609.1 L254.14 637.4 L257.94 667.7 L257.94 731 Z" fill="none" stroke="#111" stroke-width="1.25" stroke-linejoin="miter" stroke-miterlimit="10"/><line x1="246.54" y1="637.4" x2="254.14" y2="637.4" stroke="#3CE63C" stroke-width="1"/><line x1="280.68" y1="637.4" x2="280.68" y2="577.6" stroke="#3B3BF0" stroke-width="1.05" stroke-dasharray="6.4 2.8"/><line x1="276.88" y1="577.6" x2="284.48" y2="577.6" stroke="#3B3BF0" stroke-width="1.1"/><path d="M273.08 731 L273.08 667.7 L276.88 637.4 L273.08 609.1 L273.08 637.4 L288.28 637.4 L288.28 609.1 L284.48 637.4 L288.28 667.7 L288.28 731 Z" fill="none" stroke="#111" stroke-width="1.25" stroke-linejoin="miter" stroke-miterlimit="10"/><line x1="276.88" y1="637.4" x2="284.48" y2="637.4" stroke="#3B3BF0" stroke-width="1"/><path d="M308.42 731H313.62M311.02 728.4V733.6" stroke="#FF2020" stroke-width="1.0" fill="none"/><line x1="303.42" y1="731" x2="318.62" y2="731" stroke="#3a3a3a" stroke-width="1.9"/><line x1="341.36" y1="586.4" x2="341.36" y2="564.8" stroke="#F02525" stroke-width="1.05" stroke-dasharray="6.4 2.8"/><line x1="337.56" y1="564.8" x2="345.16" y2="564.8" stroke="#F02525" stroke-width="1.1"/><line x1="341.36" y1="627.5" x2="341.36" y2="674.3" stroke="#F02525" stroke-width="1.05" stroke-dasharray="6.4 2.8"/><line x1="337.56" y1="674.3" x2="345.16" y2="674.3" stroke="#F02525" stroke-width="1.1"/><path d="M333.76 627.5 L333.76 620.2 L337.56 605.4 L333.76 589.4 L333.76 586.4 L348.96 586.4 L348.96 589.4 L345.16 605.4 L348.96 620.2 L348.96 627.5 Z" fill="none" stroke="#111" stroke-width="1.25" stroke-linejoin="miter" stroke-miterlimit="10"/><line x1="337.56" y1="605.4" x2="345.16" y2="605.4" stroke="#D08050" stroke-width="1"/><path d="M369.1 635.8H374.3M371.7 633.2V638.4" stroke="#FF2020" stroke-width="1.0" fill="none"/><path d="M369.1 596.8H374.3M371.7 594.2V599.4" stroke="#FF2020" stroke-width="1.0" fill="none"/><path d="M369.1 722.3H374.3M371.7 719.7V724.9" stroke="#FF2020" stroke-width="1.0" fill="none"/><path d="M369.1 730.5H374.3M371.7 727.9V733.1" stroke="#FF2020" stroke-width="1.0" fill="none"/><line x1="364.1" y1="637.1" x2="379.3" y2="637.1" stroke="#111" stroke-width="1.6"/><path d="M399.44 590.6H404.64M402.04 588V593.2" stroke="#FF2020" stroke-width="1.0" fill="none"/><path d="M399.44 637.4H404.64M402.04 634.8V640" stroke="#FF2020" stroke-width="1.0" fill="none"/><line x1="394.44" y1="731" x2="409.64" y2="731" stroke="#3a3a3a" stroke-width="1.9"/><path d="M429.78 637.4H434.98M432.38 634.8V640" stroke="#FF2020" stroke-width="1.0" fill="none"/><path d="M429.78 567.7H434.98M432.38 565.1V570.3" stroke="#FF2020" stroke-width="1.0" fill="none"/><path d="M429.78 572.6H434.98M432.38 570V575.2" stroke="#FF2020" stroke-width="1.0" fill="none"/><line x1="424.78" y1="637.4" x2="439.98" y2="637.4" stroke="#111" stroke-width="1.4"/><path d="M460.12 637.4H465.32M462.72 634.8V640" stroke="#FF2020" stroke-width="1.0" fill="none"/><path d="M460.12 731H465.32M462.72 728.4V733.6" stroke="#FF2020" stroke-width="1.0" fill="none"/><line x1="455.12" y1="731" x2="470.32" y2="731" stroke="#3a3a3a" stroke-width="1.9"/><line x1="493.06" y1="590.1" x2="493.06" y2="577.1" stroke="#E23BE2" stroke-width="1.05" stroke-dasharray="6.4 2.8"/><line x1="489.26" y1="577.1" x2="496.86" y2="577.1" stroke="#E23BE2" stroke-width="1.1"/><line x1="493.06" y1="637.4" x2="493.06" y2="700.2" stroke="#E23BE2" stroke-width="1.05" stroke-dasharray="6.4 2.8"/><line x1="489.26" y1="700.2" x2="496.86" y2="700.2" stroke="#E23BE2" stroke-width="1.1"/><path d="M485.46 637.4 L485.46 654.6 L489.26 637.4 L485.46 622.6 L485.46 590.1 L500.66 590.1 L500.66 622.6 L496.86 637.4 L500.66 654.6 L500.66 637.4 Z" fill="none" stroke="#111" stroke-width="1.25" stroke-linejoin="miter" stroke-miterlimit="10"/><path d="M490.46 727H495.66M493.06 724.4V729.6" stroke="#FF2020" stroke-width="1.0" fill="none"/><path d="M490.46 728.5H495.66M493.06 725.9V731.1" stroke="#FF2020" stroke-width="1.0" fill="none"/>
<g stroke="#262626" stroke-width="2" fill="none"><line x1="205.1" y1="556.8" x2="205.1" y2="739"/><line x1="204.1" y1="556.8" x2="508.3" y2="556.8"/><line x1="204.1" y1="739" x2="508.3" y2="739"/><line x1="508.3" y1="556.8" x2="508.3" y2="739" stroke-width="1.6" stroke="#444"/><line x1="220" y1="739" x2="220" y2="735.8"/><line x1="220" y1="556.8" x2="220" y2="560"/><line x1="250.34" y1="739" x2="250.34" y2="735.8"/><line x1="250.34" y1="556.8" x2="250.34" y2="560"/><line x1="280.68" y1="739" x2="280.68" y2="735.8"/><line x1="280.68" y1="556.8" x2="280.68" y2="560"/><line x1="311.02" y1="739" x2="311.02" y2="735.8"/><line x1="311.02" y1="556.8" x2="311.02" y2="560"/><line x1="341.36" y1="739" x2="341.36" y2="735.8"/><line x1="341.36" y1="556.8" x2="341.36" y2="560"/><line x1="371.7" y1="739" x2="371.7" y2="735.8"/><line x1="371.7" y1="556.8" x2="371.7" y2="560"/><line x1="402.04" y1="739" x2="402.04" y2="735.8"/><line x1="402.04" y1="556.8" x2="402.04" y2="560"/><line x1="432.38" y1="739" x2="432.38" y2="735.8"/><line x1="432.38" y1="556.8" x2="432.38" y2="560"/><line x1="462.72" y1="739" x2="462.72" y2="735.8"/><line x1="462.72" y1="556.8" x2="462.72" y2="560"/><line x1="493.06" y1="739" x2="493.06" y2="735.8"/><line x1="493.06" y1="556.8" x2="493.06" y2="560"/><line x1="205.1" y1="583.24" x2="208.3" y2="583.24"/><line x1="508.3" y1="583.24" x2="505.1" y2="583.24"/><line x1="205.1" y1="617.88" x2="208.3" y2="617.88"/><line x1="508.3" y1="617.88" x2="505.1" y2="617.88"/><line x1="205.1" y1="652.52" x2="208.3" y2="652.52"/><line x1="508.3" y1="652.52" x2="505.1" y2="652.52"/><line x1="205.1" y1="687.16" x2="208.3" y2="687.16"/><line x1="508.3" y1="687.16" x2="505.1" y2="687.16"/><line x1="205.1" y1="721.8" x2="208.3" y2="721.8"/><line x1="508.3" y1="721.8" x2="505.1" y2="721.8"/></g>
<g font-family='"Liberation Serif", serif' font-weight="bold" font-size="13.1" fill="#262626"><text x="200.3" y="587.54" text-anchor="end">-2</text><text x="200.3" y="622.18" text-anchor="end">-4</text><text x="200.3" y="656.82" text-anchor="end">-6</text><text x="200.3" y="691.46" text-anchor="end">-8</text><text x="200.3" y="726.1" text-anchor="end">-10</text><text x="225.8" y="754.7" text-anchor="end" transform="rotate(-30 225.8 754.7)">MDBO</text><text x="256.14" y="754.7" text-anchor="end" transform="rotate(-30 256.14 754.7)">DBO</text><text x="286.48" y="754.7" text-anchor="end" transform="rotate(-30 286.48 754.7)">SCSO</text><text x="316.82" y="754.7" text-anchor="end" transform="rotate(-30 316.82 754.7)">AVOA</text><text x="347.16" y="754.7" text-anchor="end" transform="rotate(-30 347.16 754.7)">SCA</text><text x="377.5" y="754.7" text-anchor="end" transform="rotate(-30 377.5 754.7)">HHO</text><text x="407.84" y="754.7" text-anchor="end" transform="rotate(-30 407.84 754.7)">GWO</text><text x="438.18" y="754.7" text-anchor="end" transform="rotate(-30 438.18 754.7)">LCA</text><text x="468.52" y="754.7" text-anchor="end" transform="rotate(-30 468.52 754.7)">ZOA</text><text x="498.86" y="754.7" text-anchor="end" transform="rotate(-30 498.86 754.7)">WOA</text></g>
<text x="356.8" y="551" text-anchor="middle" font-family='"Liberation Serif", serif' font-weight="bold" font-size="13.9" fill="#111">F23</text>
<text x="356.8" y="792" text-anchor="middle" font-family='"Liberation Serif", serif' font-weight="bold" font-size="14.2" fill="#262626">Method</text>
<text x="177.4" y="648.2" text-anchor="middle" transform="rotate(-90 177.4 648.2)" font-family='"Liberation Serif", serif' font-weight="bold" font-size="14.2" fill="#262626">Objective function</text>
</svg>
</body></html>
